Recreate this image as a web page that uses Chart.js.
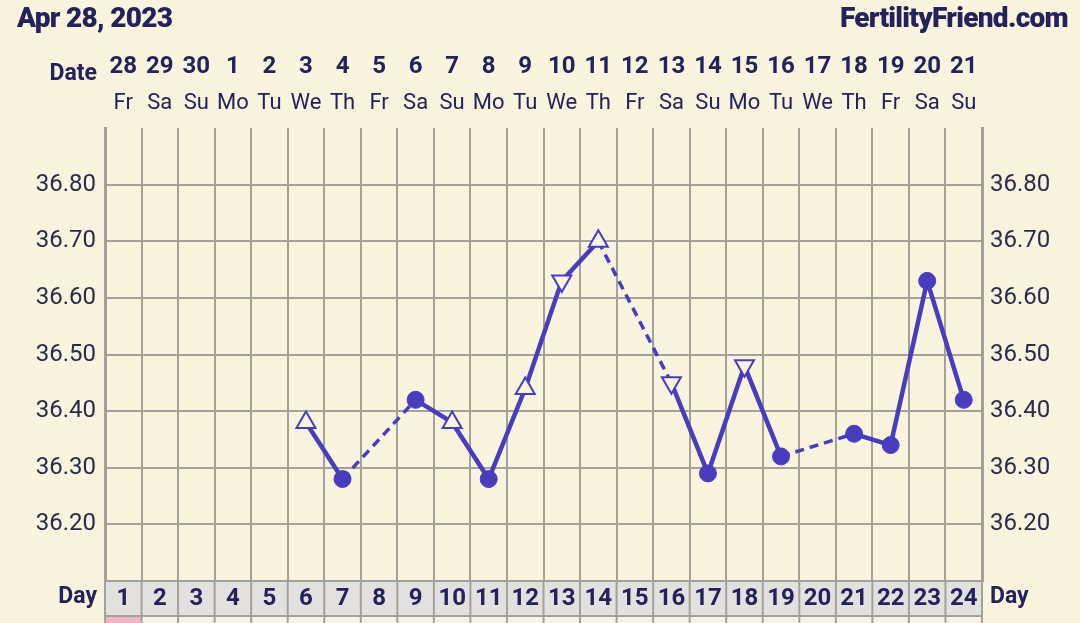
<!DOCTYPE html>
<html>
<head>
<meta charset="utf-8">
<script src="https://cdn.jsdelivr.net/npm/chart.js@4.4.0/dist/chart.umd.min.js"></script>
<style>
html, body { margin: 0; padding: 0; background: #f8f4de; }
#wrap { position: relative; width: 1080px; height: 623px; overflow: hidden; }
.hdr { position: absolute; top: 1px; font-family: Roboto, sans-serif; font-weight: 900; font-size: 28px; color: #25215a; letter-spacing: -0.7px; }
</style>
</head>
<body>
<div id="wrap">
  <canvas id="chart" width="1080" height="623"></canvas>
  <div class="hdr" style="left:17px">Apr 28, 2023</div>
  <div class="hdr" style="right:12px">FertilityFriend.com</div>
</div>
<script>
// chart values
const cycleDays = ['1','2','3','4','5','6','7','8','9','10','11','12','13','14','15','16','17','18','19','20','21','22','23','24'];
const dates = ['28','29','30','1','2','3','4','5','6','7','8','9','10','11','12','13','14','15','16','17','18','19','20','21'];
const weekdays = ['Fr','Sa','Su','Mo','Tu','We','Th','Fr','Sa','Su','Mo','Tu','We','Th','Fr','Sa','Su','Mo','Tu','We','Th','Fr','Sa','Su'];
const temps = [null, null, null, null, null, 36.38, 36.28, null, 36.42, 36.38, 36.28, 36.44,
               36.63, 36.70, null, 36.45, 36.29, 36.48, 36.32, null, 36.36, 36.34, 36.63, 36.42];
// 'up' / 'down' = open triangle, 'dot' = filled circle
const markers = ['', '', '', '', '', 'up', 'dot', '', 'dot', 'up', 'dot', 'up',
                 'down', 'up', '', 'down', 'dot', 'down', 'dot', '', 'dot', 'dot', 'dot', 'dot'];

const purple = '#4a3cbf';
const cream = '#f8f4de';
const navy = '#25215a';
const gridColor = '#a3a199';

// segment touching a skipped day -> dashed
function isGap(c) {
    return c.p0.skip || c.p1.skip;
}

// bottom band (Day row) + side labels
const bandPlugin = {
    id: 'band',
    beforeDraw(chart) {
        const { ctx, chartArea, scales } = chart;
        const x = scales.x;
        const half = (x.getPixelForValue(1) - x.getPixelForValue(0)) / 2;
        const top = chartArea.bottom;
        ctx.save();
        for (let i = 0; i < cycleDays.length; i++) {
            const cx = x.getPixelForValue(i);
            ctx.fillStyle = '#e3e1df';
            ctx.fillRect(cx - half, top, half * 2, 35);
            ctx.fillStyle = i === 0 ? '#f2b5c6' : '#f5f3ea';
            ctx.fillRect(cx - half, top + 35, half * 2, 20);
        }
        ctx.strokeStyle = gridColor;
        ctx.lineWidth = 2;
        for (let i = 0; i <= cycleDays.length; i++) {
            const bx = x.getPixelForValue(0) - half + i * half * 2;
            ctx.beginPath();
            ctx.moveTo(bx, top);
            ctx.lineTo(bx, chart.height);
            ctx.stroke();
        }
        ctx.beginPath();
        ctx.moveTo(chartArea.left, top + 35);
        ctx.lineTo(chartArea.right, top + 35);
        ctx.stroke();
        ctx.restore();
    },
    afterDraw(chart) {
        const { ctx, chartArea } = chart;
        ctx.save();
        ctx.fillStyle = navy;
        ctx.font = 'bold 23px Roboto';
        ctx.textBaseline = 'middle';
        ctx.textAlign = 'right';
        ctx.fillText('Date', chartArea.left - 8, 74);
        ctx.fillText('Day', chartArea.left - 8, 597);
        ctx.textAlign = 'left';
        ctx.fillText('Day', chartArea.right + 8, 597);
        ctx.restore();
    }
};

const ctx = document.getElementById('chart').getContext('2d');

const chart = new Chart(ctx, {
    type: 'line',
    data: {
        labels: cycleDays,
        datasets: [{
            data: temps,
            spanGaps: true,
            borderColor: purple,
            borderWidth: 4.5,
            pointStyle: markers.map(m => m === 'dot' ? 'circle' : 'triangle'),
            rotation: markers.map(m => m === 'down' ? 180 : 0),
            pointRadius: markers.map(m => m === 'dot' ? 8.5 : 11),
            pointBackgroundColor: markers.map(m => m === 'dot' ? purple : cream),
            pointBorderColor: purple,
            pointBorderWidth: markers.map(m => m === 'dot' ? 1 : 2),
            segment: {
                borderDash: c => (isGap(c) ? [9, 6] : undefined),
                borderWidth: c => (isGap(c) ? 3.5 : 4.5)
            }
        }]
    },
    options: {
        responsive: false,
        animation: false,
        layout: { padding: { top: 53, left: 0, right: 0, bottom: 0 } },
        plugins: {
            legend: { display: false },
            tooltip: { enabled: false }
        },
        scales: {
            x: {
                type: 'category',
                position: 'bottom',
                offset: true,
                grid: { color: gridColor, lineWidth: 2, drawTicks: false, offset: true },
                border: { color: gridColor, width: 2 },
                ticks: {
                    color: navy, font: { family: 'Roboto', size: 24, weight: 'bold' },
                    padding: 4, autoSkip: false, maxRotation: 0
                },
                afterFit: s => { s.height = 42; }
            },
            xWeek: {
                type: 'category',
                position: 'top',
                weight: 1,
                labels: weekdays,
                offset: true,
                grid: { display: false },
                border: { display: false },
                ticks: {
                    color: navy, font: { family: 'Roboto', size: 22 },
                    padding: 3, autoSkip: false, maxRotation: 0
                },
                afterFit: s => { s.height = 35; }
            },
            xDate: {
                type: 'category',
                position: 'top',
                weight: 2,
                labels: dates,
                offset: true,
                grid: { display: false },
                border: { display: false },
                ticks: {
                    color: navy, font: { family: 'Roboto', size: 24, weight: 'bold' },
                    padding: 4, autoSkip: false, maxRotation: 0
                },
                afterFit: s => { s.height = 40; }
            },
            y: {
                position: 'left',
                min: 36.1,
                max: 36.9,
                grid: {
                    color: c => (c.tick && c.tick.value > 36.89 ? 'rgba(0,0,0,0)' : gridColor),
                    lineWidth: 2,
                    drawTicks: false
                },
                border: { color: gridColor, width: 3 },
                ticks: {
                    stepSize: 0.05,
                    color: '#2c2a4e',
                    font: { family: 'Roboto', size: 24 },
                    padding: 9,
                    callback: v => {
                        const k = Math.round(v * 100);
                        return (k % 10 === 0 && k > 3610 && k < 3690) ? v.toFixed(2) : '';
                    }
                },
                afterFit: s => { s.width = 105; }
            },
            y2: {
                position: 'right',
                min: 36.1,
                max: 36.9,
                grid: { display: false },
                border: { color: gridColor, width: 3 },
                ticks: {
                    stepSize: 0.05,
                    color: '#2c2a4e',
                    font: { family: 'Roboto', size: 24 },
                    padding: 0,
                    callback: v => {
                        const k = Math.round(v * 100);
                        return (k % 10 === 0 && k > 3610 && k < 3690) ? v.toFixed(2) : '';
                    }
                },
                afterFit: s => { s.width = 98; }
            }
        }
    },
    plugins: [bandPlugin]
});
</script>
</body>
</html>
